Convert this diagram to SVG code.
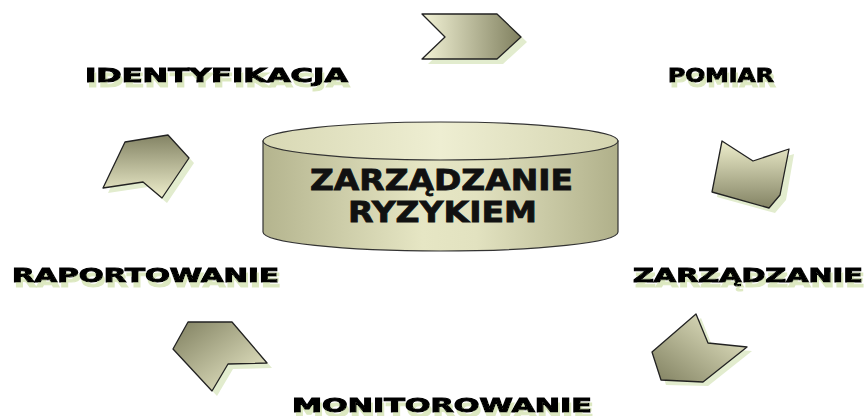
<svg xmlns="http://www.w3.org/2000/svg" width="867" height="416" viewBox="0 0 867 416">
<style>
.lbl{font-family:"DejaVu Sans","Verdana",sans-serif;font-weight:bold;font-size:19px;fill:#000;stroke:#000;stroke-width:1;filter:url(#tsh);}
.chev{stroke:#222;stroke-width:1.3;stroke-linejoin:round;}
.chsh{fill:#e2ecce;}
.title{font-family:"DejaVu Sans","Verdana",sans-serif;font-weight:bold;font-size:28px;fill:#111;stroke:#111;stroke-width:0.8;}
</style>
<defs>
<filter id="tsh" x="-5%" y="-30%" width="110%" height="180%">
  <feFlood flood-color="#dce8c0" result="f"/>
  <feComposite in="f" in2="SourceAlpha" operator="in" result="s"/>
  <feOffset in="s" dx="2" dy="5" result="o"/>
  <feMerge><feMergeNode in="o"/><feMergeNode in="SourceGraphic"/></feMerge>
</filter>
<linearGradient id="gLR" x1="0" y1="0" x2="1" y2="0"><stop offset="0" stop-color="#f3f3d6"/><stop offset="1" stop-color="#80805f"/></linearGradient>
<linearGradient id="gTB" x1="0" y1="0" x2="0" y2="1"><stop offset="0" stop-color="#eeeecc"/><stop offset="1" stop-color="#838364"/></linearGradient>
<linearGradient id="gTRBL" x1="1" y1="0" x2="0" y2="1"><stop offset="0" stop-color="#f0f0cf"/><stop offset="1" stop-color="#808060"/></linearGradient>
<linearGradient id="gTLBR" x1="0" y1="0" x2="1" y2="1"><stop offset="0" stop-color="#808060"/><stop offset="1" stop-color="#f0f0cf"/></linearGradient>
<linearGradient id="gBT" x1="0" y1="0" x2="0" y2="1"><stop offset="0" stop-color="#838364"/><stop offset="1" stop-color="#eeeecc"/></linearGradient>
<linearGradient id="gCyl" x1="0" y1="0" x2="1" y2="0"><stop offset="0" stop-color="#b4b48e"/><stop offset="0.45" stop-color="#e6e6c4"/><stop offset="0.6" stop-color="#e2e2c0"/><stop offset="1" stop-color="#b0b08a"/></linearGradient>
<linearGradient id="gTop" x1="0" y1="0" x2="1" y2="0"><stop offset="0" stop-color="#d8d8b4"/><stop offset="0.5" stop-color="#eeeed2"/><stop offset="1" stop-color="#d4d4b0"/></linearGradient>
</defs>

<g id="connectors">
  <g id="c1">
    <polygon class="chsh" points="428,19 503,19 527,42 503,64 428,64 451,42"/>
    <polygon class="chev" fill="url(#gLR)" points="422,14 497,14 521,37 497,59 422,59 445,37"/>
  </g>
  <g id="c2">
    <polygon class="chsh" points="727,145 758,165 794,154 786,200 775,213 717,197"/>
    <polygon class="chev" fill="url(#gTB)" points="722,141 753,161 789,149 780,195 769,208 712,192"/>
  </g>
  <g id="c3">
    <polygon class="chsh" points="701,318 713,348 752,351 708,386 666,385 657,356"/>
    <polygon class="chev" fill="url(#gTRBL)" points="696,314 708,343 747,347 703,382 661,380 652,352"/>
  </g>
  <g id="c4">
    <polygon class="chsh" points="193,327 237,327 272,368 233,369 217,396 178,354"/>
    <polygon class="chev" fill="url(#gTLBR)" points="188,322 232,322 267,363 228,364 212,391 173,349"/>
  </g>
  <g id="c5">
    <polygon class="chsh" points="130,147 173,140 194,163 167,203 148,187 108,193"/>
    <polygon class="chev" fill="url(#gBT)" points="125,142 168,135 189,158 162,198 143,182 103,188"/>
  </g>
</g>

<g id="center">
  <path d="M263,141 L263,232 A177.5,19 0 0 0 618,232 L618,141 Z" fill="url(#gCyl)" stroke="#333" stroke-width="1.2"/>
  <ellipse cx="440.5" cy="141" rx="177.5" ry="19" fill="url(#gTop)" stroke="#333" stroke-width="1.2"/>
  <text class="title" x="310" y="190" textLength="263" lengthAdjust="spacingAndGlyphs">ZARZĄDZANIE</text>
  <text class="title" x="348" y="222" textLength="189" lengthAdjust="spacingAndGlyphs">RYZYKIEM</text>
</g>

<g id="identyfikacja">
  <text class="lbl" x="85" y="82" textLength="263" lengthAdjust="spacingAndGlyphs">IDENTYFIKACJA</text>
</g>
<g id="pomiar">
  <text class="lbl" x="668" y="82" textLength="106" lengthAdjust="spacingAndGlyphs">POMIAR</text>
</g>
<g id="zarzadzanie">
  <text class="lbl" x="633" y="282" textLength="230" lengthAdjust="spacingAndGlyphs">ZARZĄDZANIE</text>
</g>
<g id="monitorowanie">
  <text class="lbl" x="292" y="412" textLength="300" lengthAdjust="spacingAndGlyphs">MONITOROWANIE</text>
</g>
<g id="raportowanie">
  <text class="lbl" x="12" y="282" textLength="267" lengthAdjust="spacingAndGlyphs">RAPORTOWANIE</text>
</g>
</svg>
